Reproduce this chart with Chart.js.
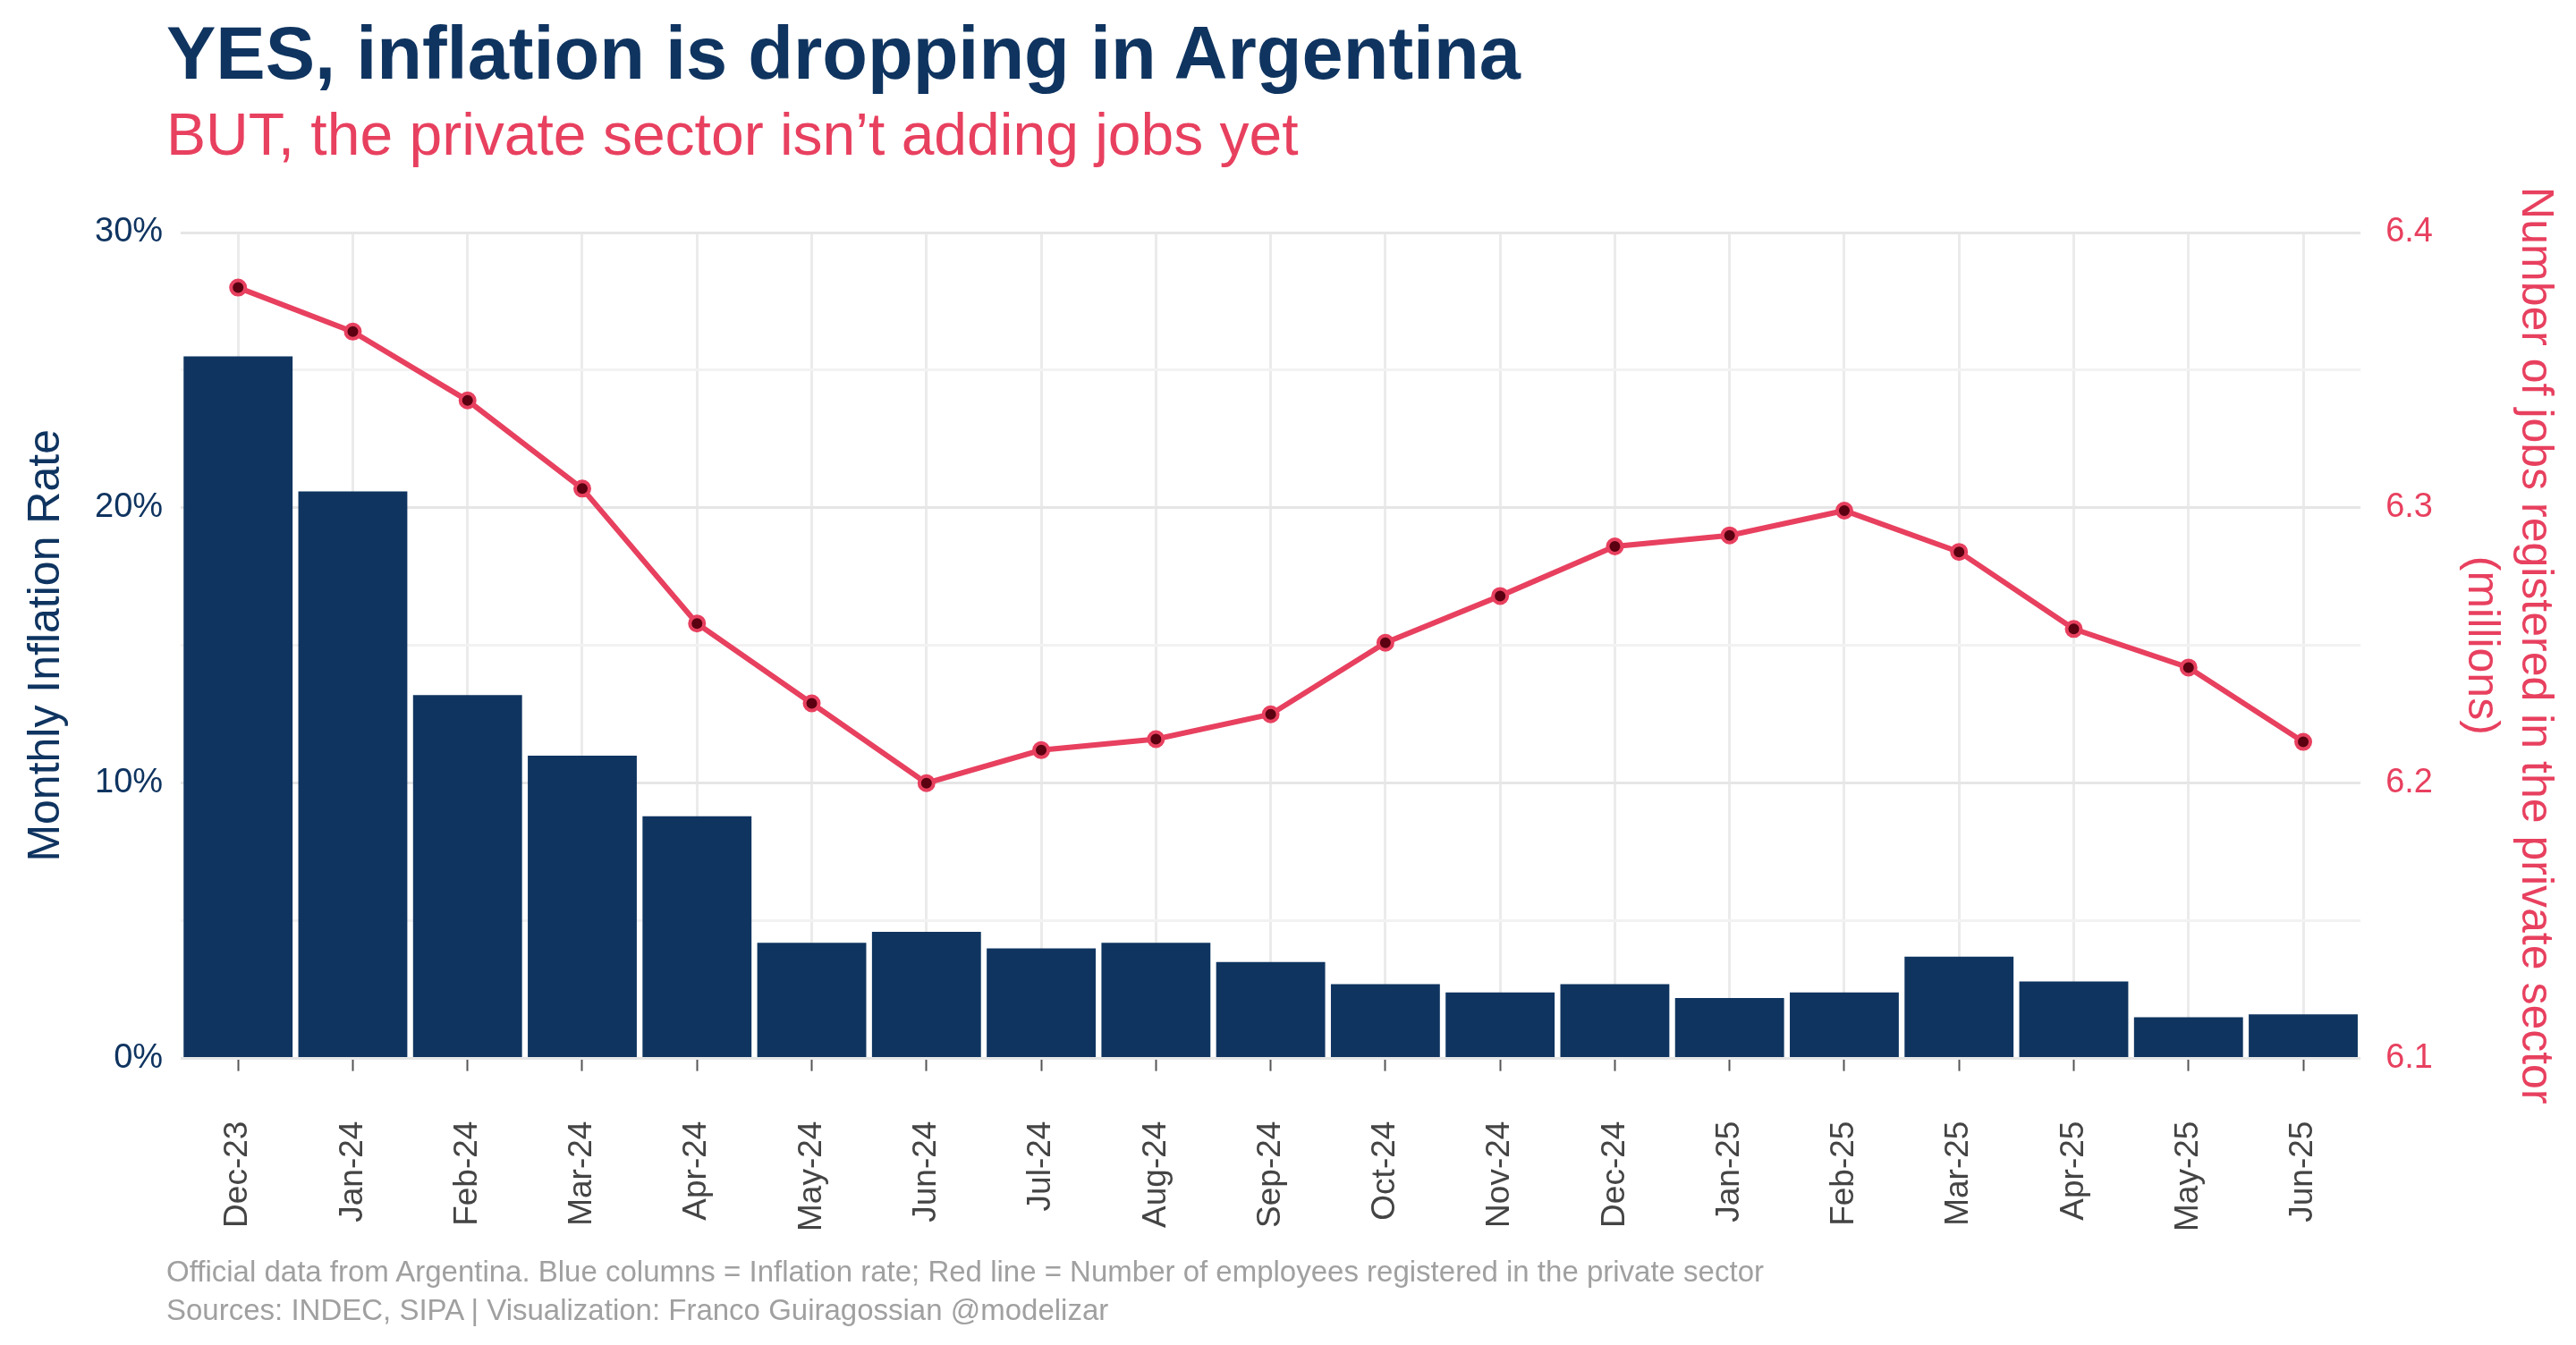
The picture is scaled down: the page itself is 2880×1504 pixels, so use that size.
<!DOCTYPE html>
<html>
<head>
<meta charset="utf-8">
<script src="https://cdn.jsdelivr.net/npm/chart.js@4"></script>
<style>
  html, body { margin: 0; padding: 0; background: #fff; width: 2880px; height: 1504px; overflow: hidden; font-family: "Liberation Sans", Arial, sans-serif; }
  #title { position: absolute; left: 186px; top: 12px; font-size: 83px; font-weight: bold; color: #0f3460; }
  #subtitle { position: absolute; left: 186px; top: 112px; font-size: 66px; color: #e8405f; }
  #caption { position: absolute; left: 186px; top: 1400px; font-size: 33px; color: #a0a0a0; line-height: 43px; }
  #wrap { position: absolute; left: 0; top: 190px; width: 2880px; height: 1243px; }
</style>
</head>
<body>
<div id="title">YES, inflation is dropping in Argentina</div>
<div id="subtitle">BUT, the private sector isn’t adding jobs yet</div>
<div id="wrap"><canvas id="c"></canvas></div>
<div id="caption">Official data from Argentina. Blue columns = Inflation rate; Red line = Number of employees registered in the private sector<br>Sources: INDEC, SIPA | Visualization: Franco Guiragossian @modelizar</div>
<script>
  var months = ["Dec-23", "Jan-24", "Feb-24", "Mar-24", "Apr-24", "May-24", "Jun-24", "Jul-24", "Aug-24", "Sep-24",
    "Oct-24", "Nov-24", "Dec-24", "Jan-25", "Feb-25", "Mar-25", "Apr-25", "May-25", "Jun-25"];
  var inflation = [25.5, 20.6, 13.2, 11.0, 8.8, 4.2, 4.6, 4.0, 4.2, 3.5, 2.7, 2.4, 2.7, 2.2, 2.4, 3.7, 2.8, 1.5, 1.6];
  var jobs = [6.380, 6.364, 6.339, 6.307, 6.258, 6.229, 6.200, 6.212, 6.216, 6.225,
    6.251, 6.268, 6.286, 6.290, 6.299, 6.284, 6.256, 6.242, 6.215];

  var navy = "#0f3460", red = "#e8405f";

  new Chart(document.getElementById("c").getContext("2d"), {
    data: {
      labels: months,
      datasets: [
        { type: "line", data: jobs, yAxisID: "y2", borderColor: red, borderWidth: 6,
          pointRadius: 8, pointBorderWidth: 4, pointBackgroundColor: "#5a0010", pointBorderColor: red, order: 0 },
        { type: "bar", data: inflation, yAxisID: "y", backgroundColor: navy,
          barPercentage: 0.95, categoryPercentage: 1.0, order: 1 }
      ]
    },
    options: {
      responsive: true,
      maintainAspectRatio: false,
      animation: false,
      layout: { padding: { left: 18, right: 6, top: 70, bottom: 0 } },
      plugins: { legend: { display: false }, tooltip: { enabled: false } },
      scales: {
        x: {
          grid: { offset: false, color: "#ebebeb", lineWidth: 3, drawTicks: true, tickLength: 14, tickColor: "#555", tickWidth: 2 },
          border: { display: false },
          ticks: { color: "#444", font: { size: 37, family: "Liberation Sans" }, minRotation: 90, maxRotation: 90, padding: 56 }
        },
        y: {
          position: "left", min: 0, max: 30,
          grid: { color: function (c) { return c.tick.value % 10 === 0 ? "#e6e6e6" : "#f2f2f2"; }, lineWidth: 3, drawTicks: false },
          border: { display: false },
          ticks: { stepSize: 5, color: navy, padding: 20, font: { size: 38, family: "Liberation Sans" },
            callback: function (v) { return v % 10 === 0 ? v + "%" : ""; } },
          title: { display: true, text: "Monthly Inflation Rate", color: navy, font: { size: 50, family: "Liberation Sans" } }
        },
        y2: {
          position: "right", min: 6.1, max: 6.4,
          grid: { display: false },
          border: { display: false },
          ticks: { stepSize: 0.1, color: red, padding: 20, font: { size: 38, family: "Liberation Sans" },
            callback: function (v) { return v.toFixed(1); } },
          title: { display: true, text: ["Number of jobs registered in the private sector", "(millions)"], color: red,
            font: { size: 50, family: "Liberation Sans" }, padding: { top: 10, bottom: 4 } }
        }
      }
    }
  });
</script>
</body>
</html>
